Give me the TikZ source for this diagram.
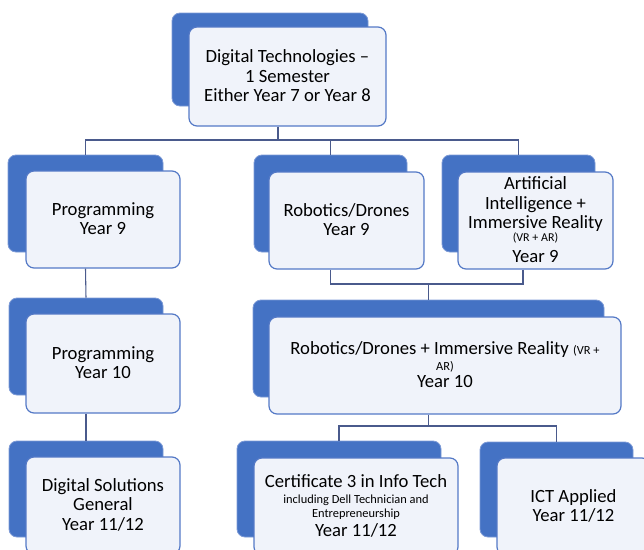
\documentclass[tikz,border=0pt]{standalone}
\usepackage{fontspec}
\setmainfont{Carlito}
\usetikzlibrary{fit,calc}
\definecolor{backblue}{HTML}{4472C4}
\definecolor{backedge}{HTML}{7C9AD6}
\definecolor{frontfill}{HTML}{F0F3FA}
\definecolor{frontedge}{HTML}{5479C6}
\definecolor{linkcol}{HTML}{4A5A8C}
\tikzset{
  backbox/.style={fill=backblue, draw=backedge, line width=0.6pt, rounded corners=6pt, inner sep=0pt},
  frontbox/.style={fill=frontfill, draw=frontedge, line width=0.9pt, rounded corners=6pt, inner sep=0pt},
  txt/.style={align=center, inner sep=0pt, yshift=0.6pt, font=\fontsize{14}{14.6}\selectfont},
  link/.style={draw=linkcol, line width=0.8pt},
}
\newcommand\smalltxt[1]{{\fontsize{9}{10}\selectfont #1}}
\newcommand\midtxt[1]{{\fontsize{9.3}{10}\selectfont #1}}
\begin{document}
\begin{tikzpicture}[x=0.75pt,y=-0.75pt]
\useasboundingbox (0,0) rectangle (644,550);
% root
\node[backbox, fit={(172,13)(368,106)}] (bk1) {};
\node[frontbox, fit={(189,27)(386,126)}] (f1) {};
\node[txt] (t1) at (f1.center) {Digital Technologies --\\1 Semester\\Either Year 7 or Year 8};
% row 2
\node[backbox, fit={(8,155)(163,252)}] (bk2) {};
\node[frontbox, fit={(26,171)(180,268)}] (f2) {};
\node[txt] (t2) at (f2.center) {Programming\\Year 9};
\node[backbox, fit={(254,155)(407,252)}] (bk3) {};
\node[frontbox, fit={(269,172)(424,269)}] (f3) {};
\node[txt] (t3) at (f3.center) {Robotics/Drones\\Year 9};
\node[backbox, fit={(442,155)(595,252)}] (bk4) {};
\node[frontbox, fit={(458,172)(613,269)}] (f4) {};
\node[txt] (t4) at (f4.center) {Artificial\\Intelligence +\\Immersive Reality\\[-5pt]\smalltxt{(VR + AR)}\\[1pt]Year 9};
% row 3
\node[backbox, fit={(9,298)(163,395)}] (bk5) {};
\node[frontbox, fit={(26,314)(180,413)}] (f5) {};
\node[txt] (t5) at (f5.center) {Programming\\Year 10};
\node[backbox, fit={(253,300)(604,397)}] (bk6) {};
\node[frontbox, fit={(269,317)(621,414)}] (f6) {};
\node[txt] (t6) at (f6.center) {Robotics/Drones + Immersive Reality \midtxt{(VR +}\\[-2.5pt]\midtxt{AR)}\\[-1.5pt]Year 10};
% row 4
\node[backbox, fit={(9,441)(163,537)}] (bk7) {};
\node[frontbox, fit={(26,457)(180,554)}] (f7) {};
\node[txt] (t7) at (f7.center) {Digital Solutions\\General\\Year 11/12};
\node[backbox, fit={(237,441)(441,537)}] (bk8) {};
\node[frontbox, fit={(254,458)(458,555)}] (f8) {};
\node[txt] (t8) at (f8.center) {Certificate 3 in Info Tech\\[-2.5pt]\midtxt{including Dell Technician and}\\[-4pt]\midtxt{Entrepreneurship}\\[-0.5pt]Year 11/12};
\node[backbox, fit={(480,442)(633,537)}] (bk9) {};
\node[frontbox, fit={(497,458)(650,555)}] (f9) {};
\node[txt] (t9) at (f9.center) {ICT Applied\\Year 11/12};
% connectors
\coordinate (j1) at (278,140);
\coordinate (j2) at (428.5,284);
\coordinate (j3) at (428.5,426);
\draw[link] (f1.south -| j1) -- (j1);
\draw[link] (j1) -| (bk2.north);
\draw[link] (j1) -| (bk3.north);
\draw[link] (j1) -| (bk4.north);
\draw[link] (bk2.north |- f2.south) -- (bk5.north);
\draw[link] (bk5.north |- f5.south) -- (bk7.north);
\draw[link] (bk3.north |- f3.south) |- (j2);
\draw[link] ($(bk4.north |- f4.south)+(4.5,0)$) |- (j2);
\draw[link] (j2) -- (bk6.north);
\draw[link] (bk6.north |- f6.south) -- (j3);
\draw[link] (j3) -| (bk8.north);
\draw[link] (j3) -| (bk9.north);
\end{tikzpicture}
\end{document}
